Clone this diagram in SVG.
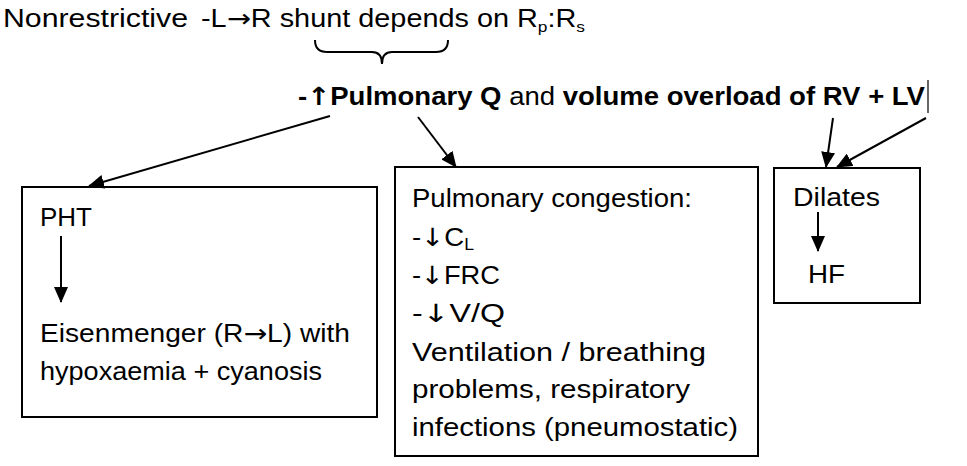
<svg xmlns="http://www.w3.org/2000/svg" width="967" height="466" viewBox="0 0 967 466">
<defs>
<style>
text{font-family:"Liberation Sans","DejaVu Sans",sans-serif;font-size:25px;fill:#000}
.b{font-weight:bold}
.ar{font-family:"DejaVu Sans",sans-serif}
.box{fill:#fff;stroke:#000;stroke-width:2}
.con{stroke:#000;stroke-width:2;fill:none}
</style>
<marker id="ah" markerUnits="userSpaceOnUse" markerWidth="16" markerHeight="14" refX="15" refY="7" orient="auto">
<path d="M0,0 L16,7 L0,14 Z" fill="#000"/>
</marker>
</defs>
<rect width="967" height="466" fill="#fff"/>
<g id="header">
<text x="3" y="27" textLength="185" lengthAdjust="spacingAndGlyphs">Nonrestrictive</text>
<text x="201" y="27" textLength="384" lengthAdjust="spacingAndGlyphs">-L<tspan class="ar">→</tspan>R shunt depends on R<tspan font-size="15" dy="5">p</tspan><tspan dy="-5">:R</tspan><tspan font-size="15" dy="5">s</tspan></text>
<path class="con" d="M315,40 Q315,52 327,52 L372,52 Q382,52 382,64 Q382,52 392,52 L436,52 Q448,52 448,40" stroke-width="1.5"/>
</g>
<g id="main">
<text x="298" y="105" textLength="627" lengthAdjust="spacingAndGlyphs"><tspan class="b">-<tspan class="ar">↑</tspan>Pulmonary Q</tspan> and <tspan class="b">volume overload of RV + LV</tspan></text>
<line x1="928" y1="80" x2="928" y2="113" stroke="#000" stroke-width="1.2"/>
</g>
<g id="pht">
<rect class="box" x="22" y="187" width="355" height="230"/>
<text x="40" y="226" textLength="52" lengthAdjust="spacingAndGlyphs">PHT</text>
<line class="con" x1="61" y1="236" x2="61" y2="302" marker-end="url(#ah)"/>
<text x="40" y="342" textLength="310" lengthAdjust="spacingAndGlyphs">Eisenmenger (R<tspan class="ar">→</tspan>L) with</text>
<text x="40" y="380" textLength="282" lengthAdjust="spacingAndGlyphs">hypoxaemia + cyanosis</text>
</g>
<g id="congestion">
<rect class="box" x="395" y="167" width="363" height="289"/>
<text x="412" y="207" textLength="280" lengthAdjust="spacingAndGlyphs">Pulmonary congestion:</text>
<text x="412" y="246" textLength="62" lengthAdjust="spacingAndGlyphs">-<tspan class="ar">↓</tspan>C<tspan font-size="16" dy="4">L</tspan></text>
<text x="412" y="284" textLength="88" lengthAdjust="spacingAndGlyphs">-<tspan class="ar">↓</tspan>FRC</text>
<text x="412" y="322" textLength="93" lengthAdjust="spacingAndGlyphs">-<tspan class="ar">↓</tspan>V/Q</text>
<text x="412" y="361" textLength="294" lengthAdjust="spacingAndGlyphs">Ventilation / breathing</text>
<text x="412" y="398" textLength="278" lengthAdjust="spacingAndGlyphs">problems, respiratory</text>
<text x="412" y="436" textLength="326" lengthAdjust="spacingAndGlyphs">infections (pneumostatic)</text>
</g>
<g id="dilates">
<rect class="box" x="774" y="168" width="146" height="135"/>
<text x="793" y="206" textLength="87" lengthAdjust="spacingAndGlyphs">Dilates</text>
<line class="con" x1="818" y1="212" x2="818" y2="251" marker-end="url(#ah)"/>
<text x="808" y="283" textLength="37" lengthAdjust="spacingAndGlyphs">HF</text>
</g>
<g id="connectors">
<line class="con" x1="330" y1="116" x2="89" y2="186" marker-end="url(#ah)"/>
<line class="con" x1="418" y1="117" x2="456" y2="167" marker-end="url(#ah)"/>
<line class="con" x1="833" y1="118" x2="826" y2="167" marker-end="url(#ah)"/>
<line class="con" x1="926" y1="118" x2="837" y2="167" marker-end="url(#ah)"/>
</g>
</svg>
